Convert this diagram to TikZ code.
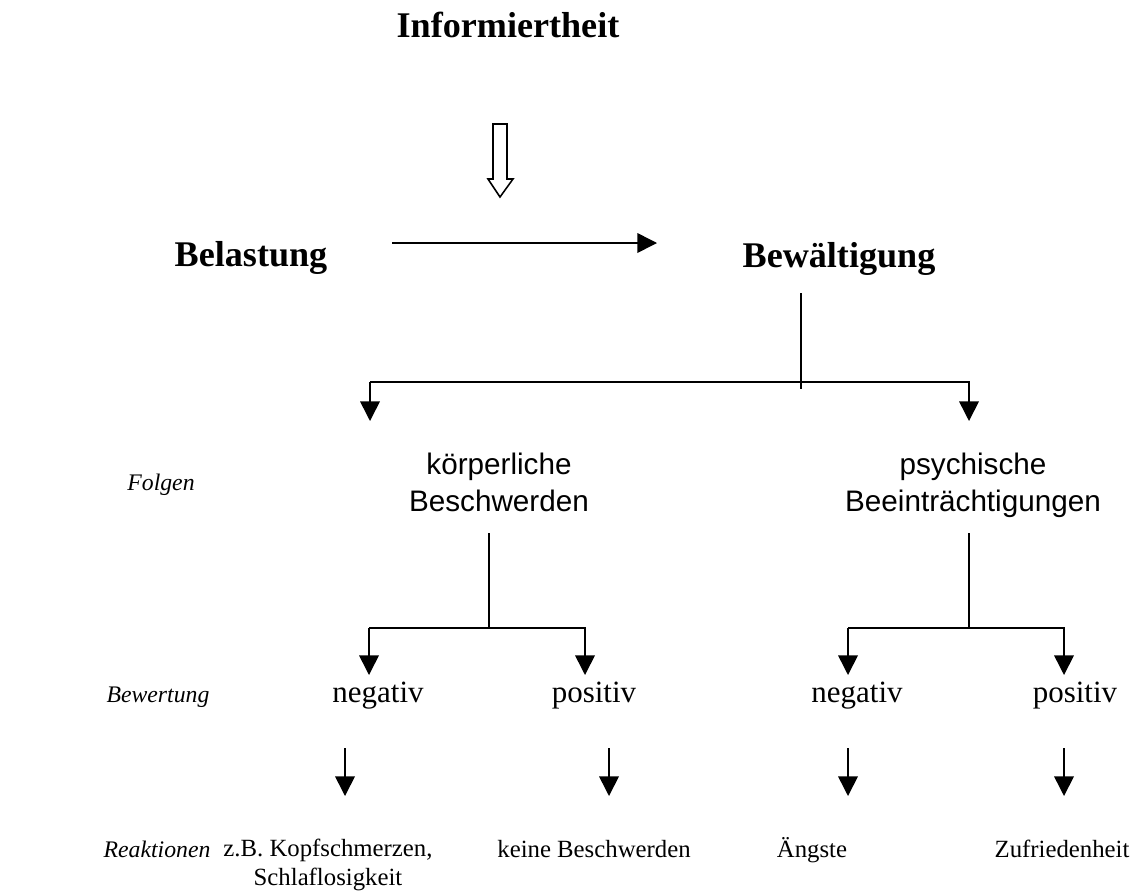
\documentclass[tikz,border=0pt]{standalone}
\usepackage{fontspec}
\setmainfont{Liberation Serif}
\newfontfamily\arialfont{Liberation Sans}
\usetikzlibrary{arrows.meta,positioning}
\tikzset{
  titel/.style={font=\fontsize{14}{17}\selectfont\bfseries,anchor=base},
  folge/.style={font=\arialfont\fontsize{11.5}{14}\selectfont,align=center,anchor=base},
  wert/.style={font=\fontsize{12}{14}\selectfont,anchor=base},
  reakt/.style={font=\fontsize{9.6}{11}\selectfont,align=center,anchor=base},
  ebene/.style={font=\fontsize{9.2}{11}\selectfont\itshape,anchor=base},
  linie/.style={line width=0.6pt},
  pfeil/.style={line width=0.6pt,-{Triangle[length=7.6pt,width=7.6pt]}}
}
\begin{document}
\begin{tikzpicture}[x=0.3876pt,y=-0.3876pt]
\useasboundingbox (0,0) rectangle (1141,890);
%Ueberschriften
\node[titel] (info) at (508,37) {Informiertheit};
\node[titel] (bel) at (251,266) {Belastung};
\node[titel] (bew) at (839,267) {Bewältigung};
%Folgen
\node[folge] (koerper) at (499,511) {körperliche\\Beschwerden};
\node[folge] (psyche) at (973,511) {psychische\\Beeinträchtigungen};
%Ebenen links
\node[ebene] (folgen) at (161,490) {Folgen};
\node[ebene] (bewertung) at (158,702) {Bewertung};
\node[ebene] (reaktionen) at (157,857) {Reaktionen};
%Bewertung
\node[wert] (kneg) at (378,702) {negativ};
\node[wert] (kpos) at (594,702) {positiv};
\node[wert] (pneg) at (857,702) {negativ};
\node[wert] (ppos) at (1075,702) {positiv};
%Reaktionen
\node[reakt] (kopf) at (328,885) {z.B. Kopfschmerzen,\\Schlaflosigkeit};
\node[reakt] (keine) at (594,857) {keine Beschwerden};
\node[reakt] (angst) at (812,857) {Ängste};
\node[reakt] (zufrieden) at (1062,857) {Zufriedenheit};
%Blockpfeil
\draw[linie] (493,124) -- (507,124) -- (507,179) -- (513,179) -- (500,197) -- (488,179) -- (493,179) -- cycle;
\coordinate (belR) at (392,243);
\coordinate (bewL) at (657,243);
\draw[pfeil] (belR) -- (bewL);
%Verzweigung Bewaeltigung
\coordinate (bewO) at (801,293);
\coordinate (bewU) at (801,389);
\coordinate (gabelL) at (370,382);
\coordinate (gabelR) at (969,382);
\draw[linie] (bewO) -- (bewU);
\draw[pfeil] (gabelL) -- ++(0,39);
\draw[pfeil] (gabelL) -- (gabelR) -- ++(0,39);
%Verzweigung Folgen
\foreach \x/\l/\r in {489/369/585, 969/848/1064}{
\draw[linie] (\x,533) -- (\x,628);
\draw[pfeil] (\l,628) -- ++(0,47);
\draw[pfeil] (\l,628) -- (\r,628) -- ++(0,47);
}
\foreach \x in {345,609,848,1064}{
\draw[pfeil] (\x,748) -- (\x,796);
}
\end{tikzpicture}
\end{document}
